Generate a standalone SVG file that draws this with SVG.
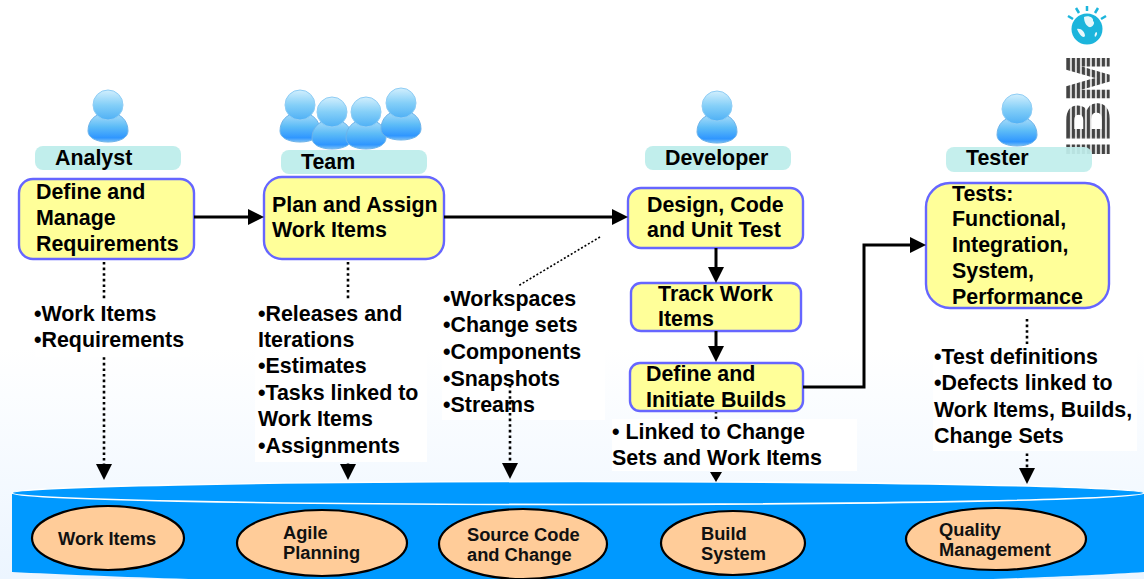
<svg xmlns="http://www.w3.org/2000/svg" width="1144" height="579" viewBox="0 0 1144 579">
<style>
text{font-family:"Liberation Sans",Arial,sans-serif;font-weight:bold;font-size:21.4px;fill:#000}
.box{fill:#ffff99;stroke:#6666ff;stroke-width:2.4}
.pill{fill:#c1eeec}
.wb{fill:#fff}
.ov{fill:#ffcc99;stroke:#000;stroke-width:2.2}
text.o{font-size:18.3px;fill:#111}
.solid{fill:none;stroke:#000;stroke-width:3}
.dot{fill:none;stroke:#000;stroke-width:2.6;stroke-dasharray:2.6 3}
.thin{fill:none;stroke:#000;stroke-width:1.6;stroke-dasharray:2 2}
</style>
<defs>
<linearGradient id="bg" x1="0" y1="0" x2="0" y2="1"><stop offset="0.6" stop-color="#fff"/><stop offset="1" stop-color="#ecf5ff"/></linearGradient>
<linearGradient id="pb" x1="0" y1="0" x2="0" y2="1"><stop offset="0" stop-color="#a8dcfa"/><stop offset="0.45" stop-color="#5dbcf7"/><stop offset="0.85" stop-color="#2f96ff"/><stop offset="1" stop-color="#7cc0f5"/></linearGradient>
<linearGradient id="ph" x1="0" y1="0" x2="0" y2="1"><stop offset="0" stop-color="#d2effd"/><stop offset="0.5" stop-color="#84cff8"/><stop offset="1" stop-color="#4fb0f5"/></linearGradient>
<pattern id="ibm" width="5" height="10" patternUnits="userSpaceOnUse" x="1067"><rect x="2.9" width="2" height="10" fill="#fff" opacity=".8"/></pattern>
<g id="person">
<path d="M-20,26C-20,15 -12,9 -6,9L6,9C12,9 20,15 20,26C20,33 11,37 0,37C-11,37 -20,33 -20,26Z" fill="url(#pb)" stroke="#6db3ea" stroke-width="1"/>
<circle r="15" fill="url(#ph)" stroke="#8fcdf5" stroke-width="1"/>
</g>
<path id="ah" d="M-8,-16L8,-16L0,0Z"/>
<path id="ar" d="M-16,-8L0,0L-16,8Z"/>
</defs>
<rect width="1144" height="579" fill="url(#bg)"/>

<g id="database">
<path d="M12,494L12,572C150,579 400,586 578,586C800,586 1040,579 1144,572L1144,494Z" fill="#0099ff"/>
<ellipse cx="578" cy="493" rx="566" ry="11.5" fill="#0099ff" stroke="#fff" stroke-width="1.6"/>
</g>

<g id="connectors">
<path class="dot" d="M104,262V476"/>
<path class="dot" d="M348,262V476"/>
<path class="dot" d="M716,411V478"/>
<path class="dot" d="M1027,319V480"/>
</g>

<g id="ibm-logo">
<circle cx="1087" cy="29" r="15.5" fill="#1cb5dc"/>
<path d="M1084,17C1089,15 1094,18 1093,21C1096,23 1092,28 1089,27C1087,26 1084,23 1084,17ZM1077,29C1081,28 1085,32 1085,36C1083,39 1079,34 1077,29ZM1096,32C1098,32 1097,36 1095,37C1094,35 1095,33 1096,32Z" fill="#fff" opacity=".9"/>
<path d="M1087,6V11M1076,8L1079,13M1098,8L1095,13M1068,16L1073,19M1106,16L1101,19" stroke="#1cb5dc" stroke-width="2.5" fill="none"/>
<text transform="translate(1109,157) rotate(-90)" style="font-size:61px;fill:#444;stroke:#444;stroke-width:1.4" textLength="102" lengthAdjust="spacingAndGlyphs">IBM</text>
<rect x="1067" y="55" width="43" height="102" fill="url(#ibm)"/>
</g>

<g id="analyst"><use href="#person" x="108" y="105"/><rect class="pill" x="35" y="146" width="146" height="24" rx="8"/><text x="55" y="165">Analyst</text></g>
<g id="team"><use href="#person" x="300" y="105"/><use href="#person" x="332" y="112"/><use href="#person" x="366" y="112"/><use href="#person" x="401" y="103"/><rect class="pill" x="281" y="150" width="146" height="24" rx="8"/><text x="301" y="169">Team</text></g>
<g id="developer"><use href="#person" x="717" y="106"/><rect class="pill" x="645" y="146" width="146" height="24" rx="8"/><text x="665" y="165">Developer</text></g>
<g id="tester"><use href="#person" x="1017" y="109"/><rect class="pill" x="946" y="147" width="146" height="25" rx="8" opacity=".93"/><text x="966" y="165">Tester</text></g>

<g id="define-manage"><rect class="box" x="19" y="179" width="175" height="80" rx="14"/><text x="36" y="199">Define and</text><text x="36" y="225">Manage</text><text x="36" y="251">Requirements</text></g>
<g id="plan-assign"><rect class="box" x="264" y="177" width="180" height="82" rx="18"/><text x="272" y="212">Plan and Assign</text><text x="272" y="237">Work Items</text></g>
<g id="design-code"><rect class="box" x="628" y="188" width="175" height="60" rx="13"/><text x="647" y="212">Design, Code</text><text x="647" y="237">and Unit Test</text></g>
<g id="track-work"><rect class="box" x="631" y="283" width="170" height="48" rx="10"/><text x="658" y="301">Track Work</text><text x="658" y="326">Items</text></g>
<g id="define-builds"><rect class="box" x="630" y="363" width="173" height="48" rx="10"/><text x="646" y="381">Define and</text><text x="646" y="407">Initiate Builds</text></g>
<g id="tests"><rect class="box" x="926" y="183" width="183" height="125" rx="24"/><text x="952" y="201">Tests:</text><text x="952" y="226">Functional,</text><text x="952" y="252">Integration,</text><text x="952" y="278">System,</text><text x="952" y="303.5">Performance</text></g>

<g id="list-analyst"><rect class="wb" x="35" y="300" width="155" height="57"/><text x="34" y="321">•Work Items</text><text x="34" y="347">•Requirements</text></g>
<g id="list-team"><rect class="wb" x="255" y="300" width="172" height="162"/><text x="258" y="321">•Releases and</text><text x="258" y="347">Iterations</text><text x="258" y="373">•Estimates</text><text x="258" y="400">•Tasks linked to</text><text x="258" y="426">Work Items</text><text x="258" y="453">•Assignments</text></g>
<g id="list-scm"><rect class="wb" x="442" y="285" width="163" height="135"/><text x="443" y="306">•Workspaces</text><text x="443" y="332">•Change sets</text><text x="443" y="359">•Components</text><text x="443" y="386">•Snapshots</text><text x="443" y="412">•Streams</text></g>
<g id="list-build"><rect class="wb" x="612" y="419" width="245" height="52"/><text x="612" y="439">• Linked to Change</text><text x="612" y="465">Sets and Work Items</text></g>
<g id="list-test"><rect class="wb" x="933" y="345" width="204" height="106"/><text x="934" y="364">•Test definitions</text><text x="934" y="390">•Defects linked to</text><text x="934" y="417">Work Items, Builds,</text><text x="934" y="443">Change Sets</text></g>

<g id="connectors-top">
<path class="solid" d="M194,217H250"/><use href="#ar" x="264" y="217"/>
<path class="solid" d="M444,217H614"/><use href="#ar" x="628" y="217"/>
<path class="solid" d="M716,248V270"/><use href="#ah" x="716" y="283"/>
<path class="solid" d="M716,331V350"/><use href="#ah" x="716" y="362"/>
<path class="solid" d="M803,387H864V245H912"/><use href="#ar" x="926" y="245"/>
<path class="thin" d="M600,237L518,286"/>
<path class="dot" d="M510,385V466"/>
<use href="#ah" x="104" y="480"/><use href="#ah" x="348" y="480"/><use href="#ah" x="510" y="479"/><use href="#ah" x="1027" y="484"/>
<path d="M710,472H722L716,482Z"/>
</g>

<g id="work-items"><ellipse class="ov" cx="108" cy="538" rx="76" ry="32"/><text x="58" y="545" class="o">Work Items</text></g>
<g id="agile-planning"><ellipse class="ov" cx="322" cy="543" rx="85" ry="33"/><text x="283" y="539" class="o">Agile</text><text x="283" y="559" class="o">Planning</text></g>
<g id="source-code"><ellipse class="ov" cx="523" cy="544" rx="84" ry="35"/><text x="467" y="541" class="o">Source Code</text><text x="467" y="561" class="o">and Change</text></g>
<g id="build-system"><ellipse class="ov" cx="733" cy="543" rx="72" ry="32"/><text x="701" y="540" class="o">Build</text><text x="701" y="560" class="o">System</text></g>
<g id="quality"><ellipse class="ov" cx="996" cy="539" rx="90" ry="31"/><text x="939" y="536" class="o">Quality</text><text x="939" y="556" class="o">Management</text></g>
</svg>
